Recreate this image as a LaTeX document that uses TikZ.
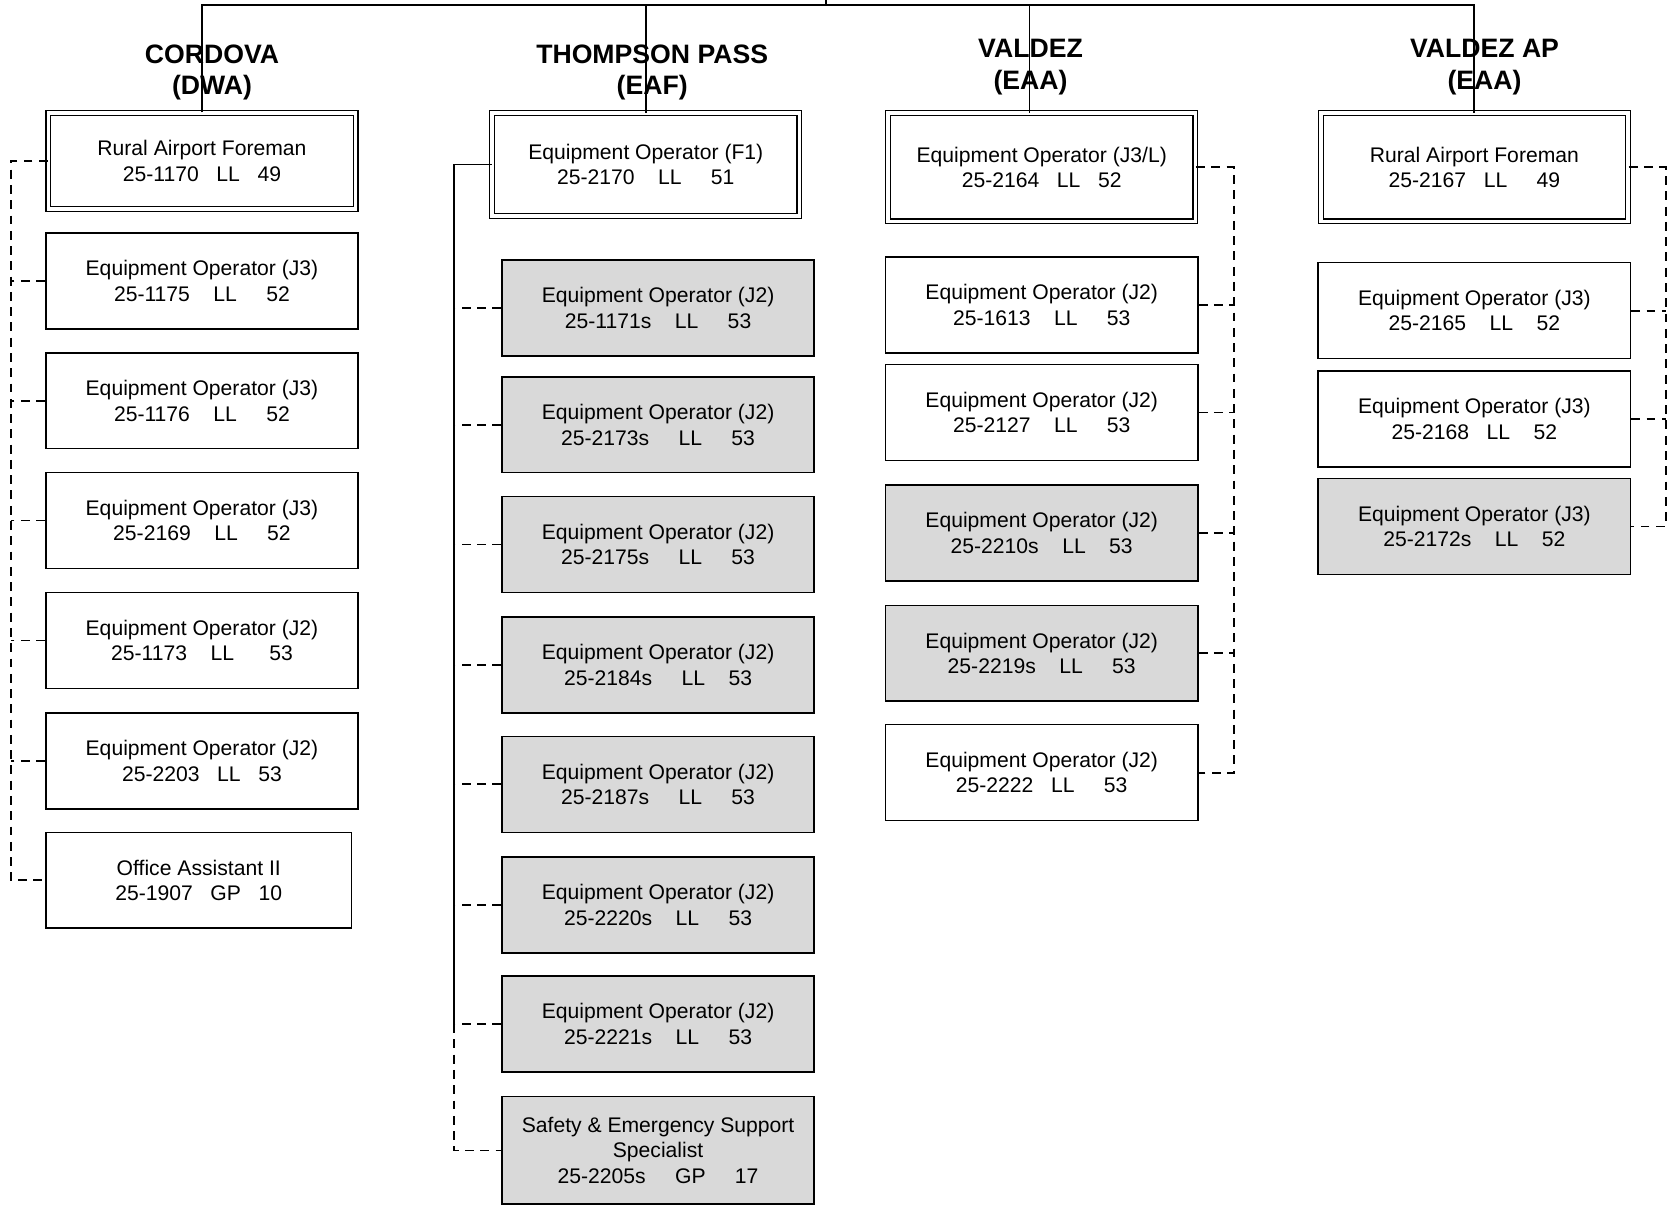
\documentclass[tikz,border=0pt]{standalone}
\usepackage{fontspec}
\setmainfont{Liberation Sans}
\usepackage{tikz}
\usetikzlibrary{positioning}

\tikzset{
  post/.style={draw, line width=0.9pt, minimum width=175.8pt, minimum height=54pt, align=center, inner sep=1pt, font=\fontsize{11.9}{14.4}\selectfont},
  head/.style={post, double, double distance=2pt, line width=0.7pt, minimum width=173pt},
  vacant/.style={post, fill=gray!30},
  site/.style={align=center, font=\fontsize{15}{18}\selectfont\bfseries},
  link/.style={line width=1pt, dash pattern=on 5pt off 3.6pt},
}

\begin{document}
\begin{tikzpicture}[x=0.6pt, y=-0.6pt]
    \useasboundingbox (0,0) rectangle (1568,1134);

    % Locations
    \node[site] (cdvName) at (199,68) {CORDOVA\\(DWA)};
    \node[site] (tpName) at (612,68) {THOMPSON PASS\\(EAF)};
    \node[site] (valName) at (967,63) {VALDEZ\\(EAA)};
    \node[site] (apName) at (1393,63) {VALDEZ AP\\(EAA)};

    % Cordova
    \node[head] (cdv0) at (189.5,151) {Rural Airport Foreman\\25-1170\ \ \ LL\ \ \ 49};
    \node[post] (cdv1) at (189.5,263.5) {Equipment Operator (J3)\\25-1175\ \ \ \ LL\ \ \ \ \ 52};
    \node[post] (cdv2) at (189.5,376) {Equipment Operator (J3)\\25-1176\ \ \ \ LL\ \ \ \ \ 52};
    \node[post] (cdv3) at (189.5,488.5) {Equipment Operator (J3)\\25-2169\ \ \ \ LL\ \ \ \ \ 52};
    \node[post] (cdv4) at (189.5,601) {Equipment Operator (J2)\\25-1173\ \ \ \ LL\ \ \ \ \ \ 53};
    \node[post] (cdv5) at (189.5,714) {Equipment Operator (J2)\\25-2203\ \ \ LL\ \ \ 53};
    \node[post, minimum width=172.2pt] (cdv6) at (186.5,826) {Office Assistant II\\25-1907\ \ \ GP\ \ \ 10};

    % Thompson Pass
    \node[head, minimum height=58pt] (tp0) at (606,154.5) {Equipment Operator (F1)\\25-2170\ \ \ \ LL\ \ \ \ \ 51};
    \node[vacant] (tp1) at (617.5,289) {Equipment Operator (J2)\\25-1171s\ \ \ \ LL\ \ \ \ \ 53};
    \node[vacant] (tp2) at (617.5,398.5) {Equipment Operator (J2)\\25-2173s\ \ \ \ \ LL\ \ \ \ \ 53};
    \node[vacant] (tp3) at (617.5,511) {Equipment Operator (J2)\\25-2175s\ \ \ \ \ LL\ \ \ \ \ 53};
    \node[vacant] (tp4) at (617.5,624) {Equipment Operator (J2)\\25-2184s\ \ \ \ \ LL\ \ \ \ 53};
    \node[vacant] (tp5) at (617.5,736) {Equipment Operator (J2)\\25-2187s\ \ \ \ \ LL\ \ \ \ \ 53};
    \node[vacant] (tp6) at (617.5,849) {Equipment Operator (J2)\\25-2220s\ \ \ \ LL\ \ \ \ \ 53};
    \node[vacant] (tp7) at (617.5,961) {Equipment Operator (J2)\\25-2221s\ \ \ \ LL\ \ \ \ \ 53};
    \node[vacant, minimum height=60.6pt] (tp8) at (617.5,1079.5) {Safety \& Emergency Support\\Specialist\\25-2205s\ \ \ \ \ GP\ \ \ \ \ 17};

    % Valdez
    \node[head, minimum height=61pt] (val0) at (977.5,157) {Equipment Operator (J3/L)\\25-2164\ \ \ LL\ \ \ 52};
    \node[post] (val1) at (977.5,286) {Equipment Operator (J2)\\25-1613\ \ \ \ LL\ \ \ \ \ 53};
    \node[post] (val2) at (977.5,387) {Equipment Operator (J2)\\25-2127\ \ \ \ LL\ \ \ \ \ 53};
    \node[vacant] (val3) at (977.5,500) {Equipment Operator (J2)\\25-2210s\ \ \ \ LL\ \ \ \ 53};
    \node[vacant] (val4) at (977.5,613) {Equipment Operator (J2)\\25-2219s\ \ \ \ LL\ \ \ \ \ 53};
    \node[post] (val5) at (977.5,725) {Equipment Operator (J2)\\25-2222\ \ \ LL\ \ \ \ \ 53};

    % Valdez AP
    \node[head, minimum height=61pt] (ap0) at (1383.5,157) {Rural Airport Foreman\\25-2167\ \ \ LL\ \ \ \ \ 49};
    \node[post] (ap1) at (1383.5,291.5) {Equipment Operator (J3)\\25-2165\ \ \ \ LL\ \ \ \ 52};
    \node[post] (ap2) at (1383.5,393) {Equipment Operator (J3)\\25-2168\ \ \ LL\ \ \ \ 52};
    \node[vacant] (ap3) at (1383.5,494) {Equipment Operator (J3)\\25-2172s\ \ \ \ LL\ \ \ \ 52};

    % Top lines
    \coordinate (root) at (775,0);
    \coordinate (bus) at (775,4.5);
    \coordinate (valTop) at (966,4.5);
    \coordinate (apTop) at (1383,4.5);
    \draw[line width=1pt] (root) -- (bus);
    \draw[line width=1pt] (cdv0.north) |- (bus) -| (apTop) -- (apTop |- ap0.north);
    \draw[line width=0.8pt] (tp0.north) -- (tp0.north |- bus);
    \draw[line width=0.8pt] (valTop) -- (valTop |- val0.north);

    % Cordova lines
    \coordinate (cdvBus) at (10,0);
    \draw[link] (cdv0.west) -- (cdv0.west -| cdvBus) -- (cdv6.west -| cdvBus) -- (cdv6.west);
    \draw[link] (cdv1.west) -- (cdv1.west -| cdvBus);
    \draw[link] (cdv2.west) -- (cdv2.west -| cdvBus);
    \draw[link] (cdv3.west) -- (cdv3.west -| cdvBus);
    \draw[link] (cdv4.west) -- (cdv4.west -| cdvBus);
    \draw[link] (cdv5.west) -- (cdv5.west -| cdvBus);

    % Thompson Pass lines
    \coordinate (tpBus) at (426,0);
    \draw[line width=0.9pt] (tp0.west) -- (tp0.west -| tpBus) -- (tp7.west -| tpBus);
    \draw[link] (tp7.west -| tpBus) -- (tp8.west -| tpBus) -- (tp8.west);
    \draw[link] (tp1.west) -- (tp1.west -| tpBus);
    \draw[link] (tp2.west) -- (tp2.west -| tpBus);
    \draw[link] (tp3.west) -- (tp3.west -| tpBus);
    \draw[link] (tp4.west) -- (tp4.west -| tpBus);
    \draw[link] (tp5.west) -- (tp5.west -| tpBus);
    \draw[link] (tp6.west) -- (tp6.west -| tpBus);
    \draw[link] (tp7.west) -- (tp7.west -| tpBus);

    % Valdez lines
    \coordinate (valBus) at (1158,0);
    \draw[link] (val0.east) -- (val0.east -| valBus) -- (val5.east -| valBus) -- (val5.east);
    \draw[link] (val1.east) -- (val1.east -| valBus);
    \draw[link] (val2.east) -- (val2.east -| valBus);
    \draw[link] (val3.east) -- (val3.east -| valBus);
    \draw[link] (val4.east) -- (val4.east -| valBus);

    % Valdez AP lines
    \coordinate (apBus) at (1563,0);
    \draw[link] (ap0.east) -- (ap0.east -| apBus) -- (ap3.east -| apBus) -- (ap3.east);
    \draw[link] (ap1.east) -- (ap1.east -| apBus);
    \draw[link] (ap2.east) -- (ap2.east -| apBus);
\end{tikzpicture}
\end{document}
